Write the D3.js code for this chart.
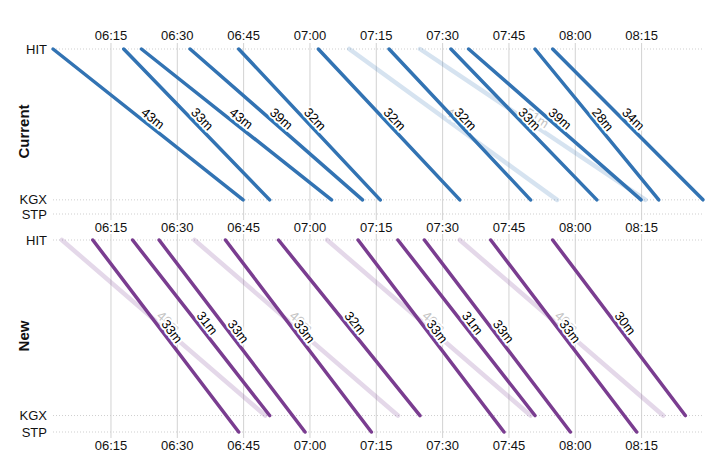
<!DOCTYPE html>
<html>
<head>
<meta charset="utf-8">
<script src="https://cdn.jsdelivr.net/npm/d3@7"></script>
<style>
  html, body { margin: 0; padding: 0; background: #fff; }
  svg { display: block; font-family: "Liberation Sans", Arial, Helvetica, sans-serif; }
</style>
</head>
<body>
<svg id="chart" width="726" height="474"></svg>
<script>
// ---------- data ----------
const stations = ["HIT", "KGX", "STP"];
const stationMiles = [0, 32, 35];
const tickLabels = ["06:15", "06:30", "06:45", "07:00", "07:15", "07:30", "07:45", "08:00", "08:15"];

const panelNames = ["Current", "New"];

// Current timetable (fast services)
const currentDep = ["06:02", "06:18", "06:22", "06:33", "06:44", "07:02", "07:18", "07:32", "07:36", "07:51", "07:55"];
const currentArr = ["06:45", "06:51", "07:05", "07:12", "07:16", "07:34", "07:50", "08:05", "08:15", "08:19", "08:29"];
const currentTo  = ["KGX", "KGX", "KGX", "KGX", "KGX", "KGX", "KGX", "KGX", "KGX", "KGX", "KGX"];
// Current timetable (slow services, faded)
const currentSlowDep = ["07:09", "07:25"];
const currentSlowArr = ["07:56", "08:16"];
const currentSlowTo  = ["KGX", "KGX"];

// New timetable (fast services)
const newDep = ["06:11", "06:20", "06:26", "06:41", "06:53", "07:11", "07:20", "07:26", "07:41", "07:55"];
const newArr = ["06:44", "06:51", "06:59", "07:14", "07:25", "07:44", "07:51", "07:59", "08:14", "08:25"];
const newTo  = ["STP", "KGX", "STP", "STP", "KGX", "STP", "KGX", "STP", "STP", "KGX"];
// New timetable (slow services, faded)
const newSlowDep = ["06:04", "06:34", "07:04", "07:34"];
const newSlowArr = ["06:50", "07:20", "07:50", "08:20"];
const newSlowTo  = ["KGX", "KGX", "KGX", "KGX"];

// ---------- build ----------
const parse = d3.timeParse("%H:%M");
function trains(dep, arr, to, slow) {
  return dep.map((d, i) => ({ dep: parse(d), arr: parse(arr[i]), to: to[i], slow }));
}
const panels = [
  { name: panelNames[0], color: "#3273b3",
    trains: trains(currentSlowDep, currentSlowArr, currentSlowTo, true)
      .concat(trains(currentDep, currentArr, currentTo, false)),
    top: 49, bottom: 214, topAxis: true },
  { name: panelNames[1], color: "#7a3d90",
    trains: trains(newSlowDep, newSlowArr, newSlowTo, true)
      .concat(trains(newDep, newArr, newTo, false)),
    top: 240, bottom: 432, topAxis: false }
];

const allTimes = panels.flatMap(p => p.trains.flatMap(t => [t.dep, t.arr]));
const x = d3.scaleTime().domain(d3.extent(allTimes)).range([53, 703]);
const tickVals = tickLabels.map(parse);
const fmt = d3.timeFormat("%H:%M");

const svg = d3.select("#chart");

panels.forEach(p => {
  const y = d3.scaleLinear().domain([0, d3.max(stationMiles)]).range([p.top, p.bottom]);
  const sy = s => y(stationMiles[stations.indexOf(s)]);
  const g = svg.append("g");

  const h = p.bottom - p.top;
  const axTop = d3.axisTop(x).tickValues(tickVals).tickFormat(fmt).tickSizeOuter(0).tickPadding(9);
  const axBot = d3.axisBottom(x).tickValues(tickVals).tickFormat(fmt).tickSizeOuter(0).tickPadding(9);

  const gt = g.append("g").attr("transform", `translate(0,${p.top})`).call(axTop);
  gt.selectAll("line").attr("y1", -6).attr("y2", h + 6);
  if (!p.topAxis) gt.selectAll("text").remove();
  gt.selectAll("text").attr("y", -9);
  const gb = g.append("g").attr("transform", `translate(0,${p.bottom})`).call(axBot);
  gb.selectAll("line").remove();
  gb.selectAll("text").attr("y", 9);

  [gt, gb].forEach(a => {
    a.select(".domain").remove();
    a.selectAll("line").attr("stroke", "#d2d2d2");
    a.selectAll("text").attr("font-size", 13).attr("fill", "#111").attr("font-family", "Liberation Sans, Arial, sans-serif");
  });

  // station lines
  g.selectAll(".stn").data(stations).join("line")
    .attr("x1", x.range()[0]).attr("x2", x.range()[1])
    .attr("y1", d => sy(d)).attr("y2", d => sy(d))
    .attr("stroke", "#cfcfcf").attr("stroke-dasharray", "1,2");
  g.selectAll(".stnl").data(stations).join("text")
    .attr("x", 47).attr("y", d => sy(d)).attr("dy", "0.35em")
    .attr("text-anchor", "end").attr("font-size", 13).attr("fill", "#111")
    .text(d => d);

  // panel title
  g.append("text")
    .attr("transform", `translate(29,${(p.top + p.bottom) / 2}) rotate(-90)`)
    .attr("text-anchor", "middle").attr("font-size", 15).attr("font-weight", "bold")
    .attr("fill", "#111").text(p.name);

  function drawTrains(list) {
    const tg = g.append("g");
    tg.selectAll("line").data(list).join("line")
      .attr("x1", d => x(d.dep)).attr("y1", sy("HIT"))
      .attr("x2", d => x(d.arr)).attr("y2", d => sy(d.to))
      .attr("stroke", p.color)
      .attr("stroke-opacity", d => d.slow ? 0.2 : 1)
      .attr("stroke-width", d => d.slow ? 4.5 : 3.5)
      .attr("stroke-linecap", "round");
    tg.selectAll("text").data(list).join("text")
      .attr("transform", d => {
        const x1 = x(d.dep), y1 = sy("HIT"), x2 = x(d.arr), y2 = sy(d.to);
        const ang = Math.atan2(y2 - y1, x2 - x1) * 180 / Math.PI;
        return `translate(${(x1 + x2) / 2},${(y1 + y2) / 2}) rotate(${ang})`;
      })
      .attr("dy", "-0.25em")
      .attr("text-anchor", "middle").attr("font-size", 13)
      .attr("fill", d => d.slow ? "#c4c4c4" : "#000")
      .attr("stroke", "#fff").attr("stroke-width", 4).attr("stroke-linejoin", "round")
      .attr("paint-order", "stroke")
      .text(d => Math.round((d.arr - d.dep) / 60000) + "m");
  }
  drawTrains(p.trains.filter(t => t.slow));
  drawTrains(p.trains.filter(t => !t.slow));
});
</script>
</body>
</html>
